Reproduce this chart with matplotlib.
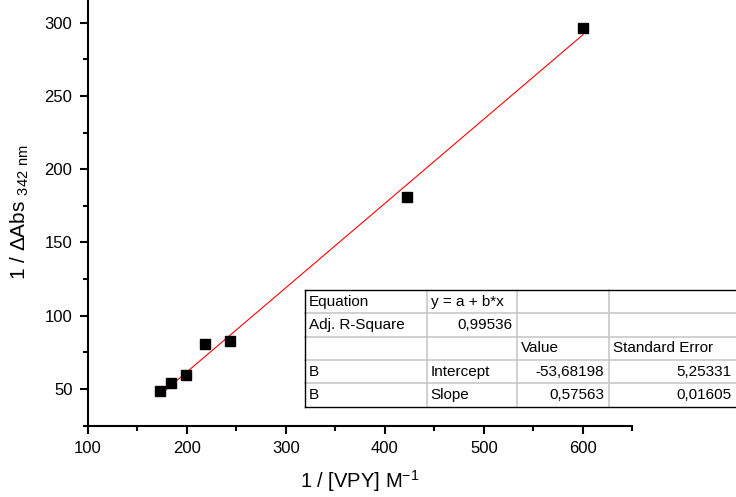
import matplotlib
matplotlib.use("Agg")
import matplotlib.pyplot as plt
from matplotlib.lines import Line2D
from matplotlib.ticker import MultipleLocator

plt.rcParams['font.family'] = ['Liberation Sans', 'DejaVu Sans']
plt.rcParams['mathtext.fontset'] = 'custom'
plt.rcParams['mathtext.rm'] = 'Liberation Sans'

# Double-reciprocal data
inv_conc = [172.7, 184.5, 199.7, 218.5, 244.2, 422.3, 600.1]
inv_dabs = [48.4, 54.1, 59.3, 80.7, 82.5, 180.8, 296.6]

# Linear fit results
intercept = -53.68198
slope = 0.57563

table_rows = [
    ["Equation", "y = a + b*x", "", ""],
    ["Adj. R-Square", "0,99536", "", ""],
    ["", "", "Value", "Standard Error"],
    ["B", "Intercept", "-53,68198", "5,25331"],
    ["B", "Slope", "0,57563", "0,01605"],
]

W, H = 736, 497
fig = plt.figure(figsize=(W / 100, H / 100), dpi=100)
ax = fig.add_axes([87.7 / W, 1 - 425.5 / H, (632.3 - 87.7) / W, 425.5 / H])

ax.plot(inv_conc, inv_dabs, 's', color='black', markersize=7.3, zorder=3)
x_fit = [min(inv_conc), max(inv_conc)]
ax.plot(x_fit, [intercept + slope * v for v in x_fit], color='red', lw=0.8, zorder=2)

ax.set_xlim(100, 650)
ax.set_ylim(25, 315.5)
ax.xaxis.set_major_locator(MultipleLocator(100))
ax.xaxis.set_minor_locator(MultipleLocator(50))
ax.yaxis.set_major_locator(MultipleLocator(50))
ax.yaxis.set_minor_locator(MultipleLocator(25))
for s in ['top', 'right']:
    ax.spines[s].set_visible(False)
for s in ['left', 'bottom']:
    ax.spines[s].set_linewidth(1.5)
ax.tick_params(which='major', direction='out', length=6, width=1.5, labelsize=12, pad=5)
ax.tick_params(which='minor', direction='out', length=3.5, width=1.5)

ax.set_xlabel(r'1 / [VPY] M$^{\mathregular{-1}}$', fontsize=14.5, labelpad=9)
ax.set_ylabel(r'1 / ΔAbs $_{\mathregular{342\ nm}}$', fontsize=15, labelpad=10)


def fx(px):
    return px / W


def fy(py):
    return 1 - py / H


# Fit-results table
col_edges = [305, 426.7, 517.3, 609.3, 745]
text_right = [None, 512.3, 604, 731.7]
row_edges = [290, 313.3, 336.7, 360, 383.3, 407]
grid = '#c8c8c8'
for y in row_edges[1:-1]:
    fig.add_artist(Line2D([fx(col_edges[0]), fx(col_edges[-1])], [fy(y), fy(y)],
                          color=grid, lw=1.2))
for x in col_edges[1:-1]:
    fig.add_artist(Line2D([fx(x), fx(x)], [fy(row_edges[0]), fy(row_edges[-1])],
                          color=grid, lw=1.2))
for y in (row_edges[0], row_edges[-1]):
    fig.add_artist(Line2D([fx(col_edges[0]), fx(col_edges[-1])], [fy(y), fy(y)],
                          color='black', lw=1.0))
fig.add_artist(Line2D([fx(col_edges[0]), fx(col_edges[0])],
                      [fy(row_edges[0]), fy(row_edges[-1])], color='black', lw=1.0))


def is_number(t):
    return any(c.isdigit() for c in t) and '=' not in t


for r, row in enumerate(table_rows):
    yc = (row_edges[r] + row_edges[r + 1]) / 2
    for c, txt in enumerate(row):
        if not txt:
            continue
        if is_number(txt):
            x, ha = text_right[c], 'right'
        else:
            x, ha = col_edges[c] + 4, 'left'
        fig.text(fx(x), fy(yc), txt, ha=ha, va='center', fontsize=11)

fig.savefig('out.png', dpi=100)
